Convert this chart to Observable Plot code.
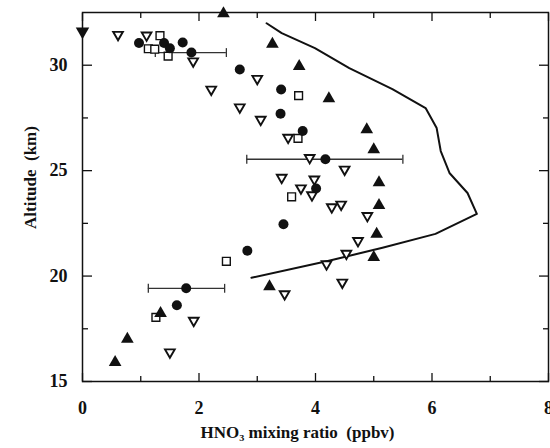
<!DOCTYPE html>
<html>
<head>
<meta charset="utf-8">
<script src="https://cdn.jsdelivr.net/npm/d3@7"></script>
<script src="https://cdn.jsdelivr.net/npm/@observablehq/plot@0.6"></script>
<style>
  html, body { margin: 0; padding: 0; background: #fff; }
  svg text { font-family: "Liberation Serif", "Times New Roman", serif !important; font-weight: bold; fill: #111; }
</style>
</head>
<body>
<div id="chart"></div>
<script>
// Filled circles
const circleX = [0.97, 1.40, 1.50, 1.72, 1.87, 2.70, 3.41, 3.40, 3.78, 4.17, 4.01, 3.45, 2.83, 1.78, 1.62];
const circleY = [31.05, 31.05, 30.80, 31.08, 30.60, 29.80, 28.85, 27.70, 26.88, 25.54, 24.15, 22.46, 21.20, 19.42, 18.62];

// Filled up-triangles
const triUpX = [2.42, 3.26, 3.72, 4.23, 4.88, 5.00, 5.09, 5.09, 5.05, 5.00, 3.21, 1.34, 0.77, 0.56];
const triUpY = [32.45, 31.00, 29.95, 28.42, 26.95, 26.00, 24.43, 23.36, 21.99, 20.89, 19.50, 18.23, 17.01, 15.91];

// Open down-triangles
const triDownX = [0.61, 1.10, 1.90, 3.00, 2.21, 2.70, 3.06, 3.53, 3.90, 4.50, 3.42, 3.98, 3.75, 3.94, 4.28, 4.44, 4.89, 4.73, 4.53, 4.19, 4.46, 3.47, 1.91, 1.50];
const triDownY = [31.45, 31.42, 30.19, 29.36, 28.85, 28.01, 27.42, 26.57, 25.61, 25.06, 24.67, 24.59, 24.17, 23.84, 23.27, 23.40, 22.86, 21.67, 21.07, 20.57, 19.70, 19.15, 17.89, 16.39];

// Open squares
const squareX = [1.13, 1.24, 1.33, 1.47, 3.71, 3.70, 3.59, 2.47, 1.26];
const squareY = [30.78, 30.76, 31.40, 30.43, 28.56, 26.53, 23.76, 20.70, 18.04];

// Filled down-triangle
const filledDownX = [0];
const filledDownY = [31.6];

// Envelope line
const lineX = [3.16, 3.42, 3.99, 4.58, 5.32, 5.89, 6.08, 6.15, 6.30, 6.61, 6.77, 6.06, 5.15, 4.23, 2.90];
const lineY = [31.99, 31.52, 30.81, 29.86, 28.87, 27.97, 27.02, 25.93, 24.89, 23.94, 22.95, 22.00, 21.34, 20.73, 19.92];

// Error bars
const errY = [30.60, 25.54, 19.42];
const errX1 = [1.25, 2.82, 1.13];
const errX2 = [2.47, 5.50, 2.44];

// Ticks
const xMajor = [0, 2, 4, 6, 8];
const xMinor = [1, 3, 5, 7];
const yMajor = [15, 20, 25, 30];
const yMinor = [17.5, 22.5, 27.5];

const xLabel = "HNO\u2083 mixing ratio\u00a0\u00a0(ppbv)";
const yLabel = "Altitude\u00a0\u00a0(km)";

const pts = (xs, ys) => xs.map((x, i) => ({x, y: ys[i]}));
const lineData = pts(lineX, lineY);
const errData = errY.map((y, i) => ({y, x1: errX1[i], x2: errX2[i]}));
const capData = errData.flatMap(d => [{x: d.x1, y: d.y}, {x: d.x2, y: d.y}]);

const capSymbol = {
  draw(ctx, size) {
    const h = Math.sqrt(size) * 0.5;
    ctx.moveTo(0, -h);
    ctx.lineTo(0, h);
  }
};

const font = "'Liberation Serif', 'Times New Roman', serif";

const chart = Plot.plot({
  width: 550,
  height: 448,
  marginLeft: 82,
  marginRight: 2,
  marginTop: 12,
  marginBottom: 67,
  style: {fontFamily: font, fontWeight: "bold", fontSize: "18px", color: "#111", background: "#fff"},
  x: {domain: [0, 8]},
  y: {domain: [15, 32.5]},
  marks: [
    // axes: labels
    Plot.axisX(xMajor, {anchor: "bottom", tickSize: 0, tickPadding: 20, label: null, fontSize: 18, fill: "#111"}),
    Plot.axisY(yMajor, {anchor: "left", tickSize: 0, tickPadding: 15, label: null, fontSize: 18, fill: "#111"}),
    // inward ticks
    Plot.axisX(xMajor, {anchor: "bottom", tickSize: -8, text: null, label: null, strokeWidth: 1.3}),
    Plot.axisX(xMinor, {anchor: "bottom", tickSize: -5, text: null, label: null, strokeWidth: 1.3}),
    Plot.axisX(xMajor, {anchor: "top", tickSize: -8, text: null, label: null, strokeWidth: 1.3}),
    Plot.axisX(xMinor, {anchor: "top", tickSize: -5, text: null, label: null, strokeWidth: 1.3}),
    Plot.axisY(yMajor, {anchor: "left", tickSize: -10, text: null, label: null, strokeWidth: 1.3}),
    Plot.axisY(yMinor, {anchor: "left", tickSize: -6, text: null, label: null, strokeWidth: 1.3}),
    Plot.axisY(yMajor, {anchor: "right", tickSize: -10, text: null, label: null, strokeWidth: 1.3}),
    Plot.axisY(yMinor, {anchor: "right", tickSize: -6, text: null, label: null, strokeWidth: 1.3}),
    Plot.frame({stroke: "#111", strokeWidth: 1.5}),
    Plot.text([xLabel], {frameAnchor: "bottom", dy: 56, dx: -18, fontSize: 17, fontWeight: "bold", fill: "#111"}),
    Plot.text([yLabel], {frameAnchor: "left", dx: -52, dy: 32, rotate: -90, fontSize: 17, fontWeight: "bold", fill: "#111"}),
    // envelope line
    Plot.line(lineData, {x: "x", y: "y", stroke: "#111", strokeWidth: 2}),
    // error bars
    Plot.ruleY(errData, {y: "y", x1: "x1", x2: "x2", stroke: "#333", strokeWidth: 1.3}),
    Plot.dot(capData, {x: "x", y: "y", symbol: capSymbol, r: 5, stroke: "#333", strokeWidth: 1.3, fill: "none"}),
    // markers
    Plot.dot(pts(triDownX, triDownY), {x: "x", y: "y", symbol: "triangle", rotate: 180, r: 3.6, fill: "white", stroke: "#111", strokeWidth: 1.9}),
    Plot.dot(pts(squareX, squareY), {x: "x", y: "y", symbol: "square", r: 4.4, fill: "white", stroke: "#111", strokeWidth: 1.4}),
    Plot.dot(pts(circleX, circleY), {x: "x", y: "y", symbol: "circle", r: 5, fill: "#111", stroke: "none"}),
    Plot.dot(pts(triUpX, triUpY), {x: "x", y: "y", symbol: "triangle", r: 4.7, fill: "#111", stroke: "none"}),
    Plot.dot(pts(filledDownX, filledDownY), {x: "x", y: "y", symbol: "triangle", rotate: 180, r: 5, fill: "#111", stroke: "none"})
  ]
});

document.getElementById("chart").appendChild(chart);
</script>
</body>
</html>
